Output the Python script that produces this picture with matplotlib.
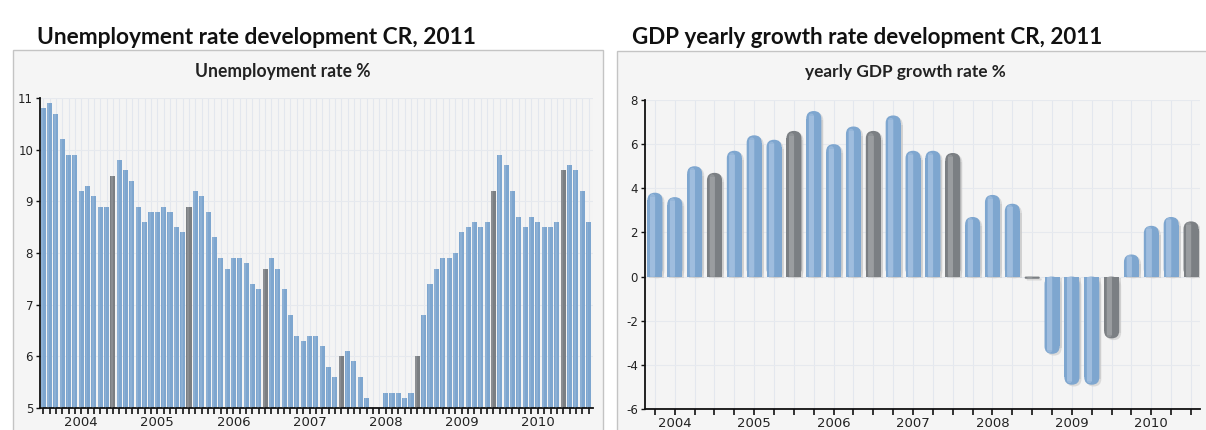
import matplotlib
matplotlib.use("Agg")
import matplotlib.pyplot as plt
from matplotlib.patches import Rectangle, FancyBboxPatch

plt.rcParams['axes.unicode_minus'] = False
plt.rcParams['font.family'] = ['DejaVu Sans']

# unemployment rate %, monthly from Jan 2004 (last value of each full year = December, drawn grey)
u2004 = [10.8, 10.9, 10.7, 10.2, 9.9, 9.9, 9.2, 9.3, 9.1, 8.9, 8.9, 9.5]
u2005 = [9.8, 9.6, 9.4, 8.9, 8.6, 8.8, 8.8, 8.9, 8.8, 8.5, 8.4, 8.9]
u2006 = [9.2, 9.1, 8.8, 8.3, 7.9, 7.7, 7.9, 7.9, 7.8, 7.4, 7.3, 7.7]
u2007 = [7.9, 7.7, 7.3, 6.8, 6.4, 6.3, 6.4, 6.4, 6.2, 5.8, 5.6, 6.0]
u2008 = [6.1, 5.9, 5.6, 5.2, 5.0, 5.0, 5.3, 5.3, 5.3, 5.2, 5.3, 6.0]
u2009 = [6.8, 7.4, 7.7, 7.9, 7.9, 8.0, 8.4, 8.5, 8.6, 8.5, 8.6, 9.2]
u2010 = [9.9, 9.7, 9.2, 8.7, 8.5, 8.7, 8.6, 8.5, 8.5, 8.6, 9.6]
u2011 = [9.7, 9.6, 9.2, 8.6]
unemp_years = [u2004, u2005, u2006, u2007, u2008, u2009, u2010, u2011]

# GDP yearly growth %, quarterly (Q4 drawn grey)
g2004 = [3.8, 3.6, 5.0, 4.7]
g2005 = [5.7, 6.4, 6.2, 6.6]
g2006 = [7.5, 6.0, 6.8, 6.6]
g2007 = [7.3, 5.7, 5.7, 5.6]
g2008 = [2.7, 3.7, 3.3, -0.1]
g2009 = [-3.5, -4.9, -4.9, -2.8]
g2010 = [1.0, 2.3, 2.7, 2.5]
gdp_years = [g2004, g2005, g2006, g2007, g2008, g2009, g2010]

year_labels = ['2004', '2005', '2006', '2007', '2008', '2009', '2010']

W, H = 1206, 430
BLUE = '#7ea6cf'
GREY = '#7b7f83'

fig = plt.figure(figsize=(W / 100, H / 100), dpi=100)
fig.patch.set_facecolor('white')

# panel frames
fig.add_artist(Rectangle((13 / W, -0.02), (603 - 13) / W, 1.02 - 50 / H, transform=fig.transFigure,
                         fc='#f5f5f5', ec='#c4c4c4', lw=1.0, zorder=0))
fig.add_artist(Rectangle((617 / W, -0.02), 1.0, 1.02 - 51 / H, transform=fig.transFigure,
                         fc='#f5f5f5', ec='#c4c4c4', lw=1.0, zorder=0))


def fit_text(txt, x, y, width_px, **kw):
    t = fig.text(x / W, 1 - y / H, txt, **kw)
    r = fig.canvas.get_renderer()
    w = t.get_window_extent(r).width
    t.set_fontsize(t.get_fontsize() * width_px / w)
    return t


fit_text('Unemployment rate development CR, 2011', 37, 37, 441, ha='left', va='center',
         family='Lato', weight='bold', fontsize=16, color='#111111')
fit_text('GDP yearly growth rate development CR, 2011', 632, 37, 472, ha='left', va='center',
         family='Lato', weight='bold', fontsize=16, color='#111111')
fit_text('Unemployment rate %', 283, 72, 175, ha='center', va='center',
         family='Lato', weight='bold', fontsize=11, color='#222222')
fit_text('yearly GDP growth rate %', 905, 72, 200, ha='center', va='center',
         family='Lato', weight='bold', fontsize=11, color='#222222')


def style_axes(ax):
    ax.set_facecolor('#f4f4f4')
    for s in ['top', 'right']:
        ax.spines[s].set_visible(False)
    for s in ['left', 'bottom']:
        ax.spines[s].set_color('#111111')
        ax.spines[s].set_linewidth(1.3)
    ax.set_axisbelow(True)
    ax.tick_params(axis='y', length=3, width=1, colors='#111111', labelsize=8.5, pad=2,
                   labelcolor='#222222')
    ax.tick_params(axis='x', length=4, width=1.2, colors='#111111', labelsize=9.5, pad=1.5,
                   labelcolor='#222222')


# ---- left: unemployment ----
ax1 = fig.add_axes([40 / W, 1 - 408 / H, 553 / W, 310 / H])
vals, cols = [], []
for yr in unemp_years:
    full = yr is not u2011
    for i, v in enumerate(yr):
        vals.append(v)
        cols.append(GREY if (full and i == len(yr) - 1) else BLUE)
xs = list(range(len(vals)))
for x in xs:
    ax1.axvline(x, color='#e3e7ee', lw=0.8, zorder=0)
ax1.bar(xs, vals, width=0.8, color=cols, zorder=2)
ax1.bar([x - 0.17 for x in xs], vals, width=0.3, color='white', alpha=0.12, zorder=3)
ax1.set_ylim(5, 11)
ax1.set_xlim(-0.5, 86.7)
ax1.set_yticks(range(5, 12))
ax1.yaxis.grid(True, color='#e6e9ee', lw=0.8)
ax1.set_xticks(xs)
lab1 = [''] * len(xs)
for k, y in enumerate(year_labels):
    lab1[6 + 12 * k] = y
ax1.set_xticklabels(lab1)
style_axes(ax1)

# ---- right: GDP ----
ax2 = fig.add_axes([645 / W, 1 - 409 / H, 555 / W, 309 / H])
gvals, gcols = [], []
for yr in gdp_years:
    for i, v in enumerate(yr):
        gvals.append(v)
        gcols.append(GREY if i == 3 else BLUE)
gx = list(range(len(gvals)))
for x in gx:
    ax2.axvline(x, color='#e3e7ee', lw=0.8, zorder=0)
ax2.set_ylim(-6, 8)
ax2.set_xlim(-0.5, 27.45)
ax2.set_yticks(range(-6, 9, 2))
ax2.yaxis.grid(True, color='#e6e9ee', lw=0.8)

aspect = (555 / 27.95) / (309 / 14.0)  # px per x-unit / px per y-unit


def rounded_bar(ax, x, v, w, color, z, dx=0.0, dy=0.0, alpha=1.0):
    rx = w / 2
    ry = rx * aspect
    h = abs(v)
    rs = min(rx, h / aspect / 2) if h > 0 else 0.01
    y0 = min(0, v)
    ax.add_patch(FancyBboxPatch((x - w / 2 + dx, y0 + dy), w, max(h, 0.02),
                                boxstyle=f"round,pad=0,rounding_size={rs}",
                                mutation_aspect=aspect, fc=color, ec='none', alpha=alpha, zorder=z))
    if h > 2 * ry:
        base_h = h - ry
        yb = 0 if v > 0 else v + ry
        ax.add_patch(Rectangle((x - w / 2 + dx, yb + dy), w, base_h, fc=color, ec='none',
                               alpha=alpha, zorder=z))


for x, v, c in zip(gx, gvals, gcols):
    rounded_bar(ax2, x, v, 0.76, '#c9c9c9', 1.5, dx=0.1, dy=-0.08, alpha=0.6)
    rounded_bar(ax2, x, v, 0.76, c, 2)
    light = '#a9c4e3' if c == BLUE else '#a3a6a9'
    rounded_bar(ax2, x - 0.12, v * 0.985, 0.26, light, 3, alpha=0.55)

ax2.set_xticks(gx)
lab2 = [''] * len(gx)
for k, y in enumerate(year_labels):
    lab2[1 + 4 * k] = y
ax2.set_xticklabels(lab2)
style_axes(ax2)

fig.savefig('out.png', dpi=100)
